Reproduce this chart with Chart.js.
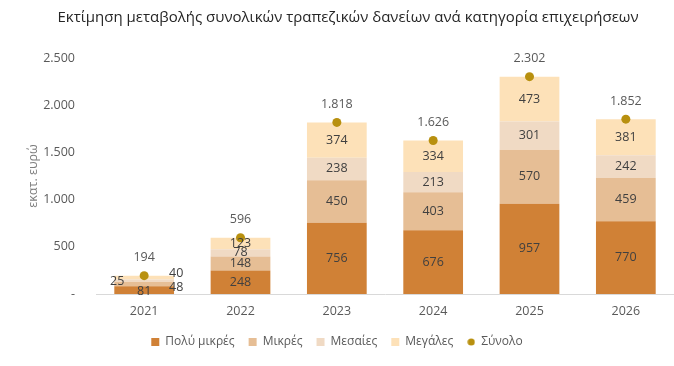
<!DOCTYPE html>
<html>
<head>
<meta charset="utf-8">
<script src="https://cdn.jsdelivr.net/npm/chart.js@4"></script>
<style>
  html, body { margin: 0; padding: 0; background: #fff; }
  #wrap { width: 674px; height: 366px; }
</style>
</head>
<body>
<div id="wrap"><canvas id="myChart"></canvas></div>
<script>
// data

const categories = ["2021", "2022", "2023", "2024", "2025", "2026"];
const polyMikres = [81, 248, 756, 676, 957, 770];
const mikres = [48, 148, 450, 403, 570, 459];
const mesaies = [25, 78, 238, 213, 301, 242];
const megales = [40, 123, 374, 334, 473, 381];
const synolo = [194, 596, 1818, 1626, 2302, 1852];
const yTicks = [0, 500, 1000, 1500, 2000, 2500];

const title = "Εκτίμηση μεταβολής συνολικών τραπεζικών δανείων ανά κατηγορία επιχειρήσεων";
const FONT = "'Open Sans', 'Noto Sans', sans-serif";
const DOT = "#B8900F";

// thousands with a dot, like the original
const fmt = (n) => String(n).replace(/\B(?=(\d{3})+(?!\d))/g, ".");

// 2021 labels were moved by hand in the original (dataset -> [dx, dy])
const nudge2021 = {
  1: [32, 3],
  2: [-27, 1],
  3: [32, -4],
};

// small dot for the legend
const legendDot = document.createElement("canvas");
legendDot.width = 8;
legendDot.height = 8;
const dctx = legendDot.getContext("2d");
dctx.fillStyle = DOT;
dctx.beginPath();
dctx.arc(4, 4, 3.6, 0, Math.PI * 2);
dctx.fill();

const titlePlugin = {
  id: "topTitle",
  afterDraw(chart) {
    const c = chart.ctx;
    c.save();
    c.font = "15px " + FONT;
    c.fillStyle = "#262626";
    c.textAlign = "center";
    c.textBaseline = "middle";
    c.fillText(title, 348, 18);
    c.restore();
  },
};

const labelPlugin = {
  id: "valueLabels",
  afterDatasetsDraw(chart) {
    const c = chart.ctx;
    c.save();
    c.font = "12.5px " + FONT;
    c.textAlign = "center";
    c.textBaseline = "middle";
    chart.data.datasets.forEach((ds, di) => {
      const meta = chart.getDatasetMeta(di);
      meta.data.forEach((el, i) => {
        const v = ds.data[i];
        if (ds.type === "line") {
          c.fillStyle = "#595959";
          c.fillText(fmt(v), el.x, el.y - 18);
          return;
        }
        let x = el.x;
        let y = (el.y + el.base) / 2;
        if (i === 0 && nudge2021[di]) {
          x += nudge2021[di][0];
          y += nudge2021[di][1];
        }
        if (i === 0 && di === 0) y += 1;
        c.fillStyle = "#404040";
        c.fillText(fmt(v), x, y);
      });
    });
    c.restore();
  },
};

const barDs = (label, data, color) => ({
  type: "bar",
  label,
  data,
  backgroundColor: color,
  borderWidth: 0,
  barPercentage: 0.62,
  categoryPercentage: 1,
  pointStyle: "rect",
  order: 2,
});

const ctx = document.getElementById("myChart");

new Chart(ctx, {
  data: {
    labels: categories,
    datasets: [
      barDs("Πολύ μικρές", polyMikres, "#D08136"),
      barDs("Μικρές", mikres, "#E6BE95"),
      barDs("Μεσαίες", mesaies, "#F0DAC4"),
      barDs("Μεγάλες", megales, "#FDE1B8"),
      {
        type: "line",
        label: "Σύνολο",
        data: synolo,
        showLine: false,
        pointStyle: "circle",
        pointRadius: 4.5,
        pointBackgroundColor: DOT,
        pointBorderWidth: 0,
        backgroundColor: DOT,
        borderColor: DOT,
        order: 1,
      },
    ],
  },
  options: {
    responsive: true,
    maintainAspectRatio: false,
    animation: false,
    layout: {
      autoPadding: false,
      padding: { top: 58, left: 0, right: 0, bottom: 8 },
    },
    plugins: {
      title: { display: false },
      tooltip: { enabled: false },
      legend: {
        position: "bottom",
        labels: {
          usePointStyle: true,
          boxWidth: 8,
          boxHeight: 8,
          padding: 14,
          color: "#595959",
          font: { family: FONT, size: 12 },
          sort: (a, b) => a.datasetIndex - b.datasetIndex,
          generateLabels(chart) {
            const items = Chart.defaults.plugins.legend.labels.generateLabels(chart);
            items.forEach((it) => {
              if (it.datasetIndex === 4) it.pointStyle = legendDot;
            });
            return items;
          },
        },
      },
    },
    scales: {
      x: {
        stacked: true,
        afterFit(scale) {
          scale.height -= 7;
          scale.paddingLeft = 0;
          scale.paddingRight = 0;
        },
        grid: { display: false, drawTicks: false },
        border: { display: true, color: "#D9D9D9", width: 1 },
        ticks: {
          padding: 10,
          color: "#595959",
          font: { family: FONT, size: 12.5 },
        },
      },
      y: {
        stacked: true,
        min: 0,
        max: 2500,
        afterFit(scale) {
          scale.width = 96;
        },
        afterBuildTicks(scale) {
          scale.ticks = yTicks.map((v) => ({ value: v }));
        },
        grid: { display: false, drawTicks: false },
        border: { display: false },
        ticks: {
          padding: 21,
          color: "#595959",
          font: { family: FONT, size: 12.5 },
          callback: (v) => (v === 0 ? "-" : fmt(v)),
        },
        title: {
          display: true,
          text: "εκατ. ευρώ",
          color: "#7F7F7F",
          padding: { top: 26, bottom: 0 },
          font: { family: FONT, size: 12.5 },
        },
      },
    },
  },
  plugins: [titlePlugin, labelPlugin],
});
</script>
</body>
</html>
